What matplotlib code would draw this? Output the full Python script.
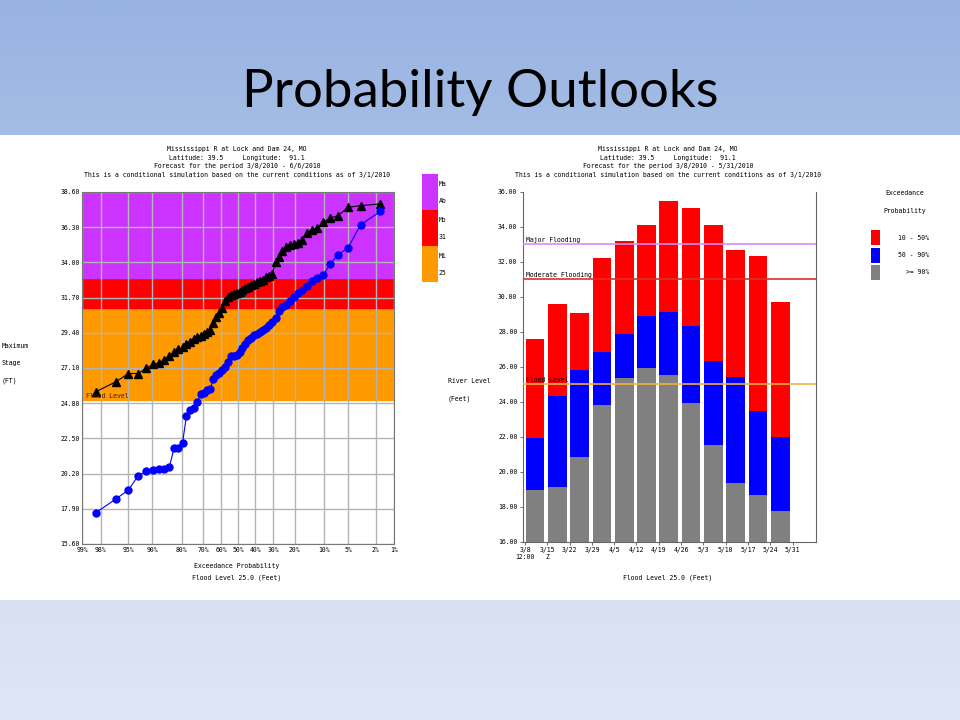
import numpy as np
import matplotlib
matplotlib.use("Agg")
import matplotlib.pyplot as plt
from matplotlib.patches import Rectangle
from statistics import NormalDist

# ---- left chart: exceedance probability of maximum stage ----
exceed_pct = [98.31, 96.61, 94.92, 93.22, 91.53, 89.83, 88.14, 86.44, 84.75, 83.05,
              81.36, 79.66, 77.97, 76.27, 74.58, 72.88, 71.19, 69.49, 67.80, 66.10,
              64.41, 62.71, 61.02, 59.32, 57.63, 55.93, 54.24, 52.54, 50.85, 49.15,
              47.46, 45.76, 44.07, 42.37, 40.68, 38.98, 37.29, 35.59, 33.90, 32.20,
              30.51, 28.81, 27.12, 25.42, 23.73, 22.03, 20.34, 18.64, 16.95, 15.25,
              13.56, 11.86, 10.17, 8.47, 6.78, 5.08, 3.39, 1.69]
stage_cond = [25.55, 26.20, 26.74, 26.74, 27.08, 27.33, 27.44, 27.60, 27.90, 28.12,
              28.31, 28.47, 28.65, 28.83, 29.01, 29.13, 29.22, 29.34, 29.43, 29.56,
              30.05, 30.45, 30.72, 31.00, 31.50, 31.74, 31.85, 31.93, 32.01, 32.08,
              32.19, 32.30, 32.42, 32.52, 32.61, 32.69, 32.78, 32.88, 33.02, 33.13,
              33.22, 34.05, 34.35, 34.75, 35.03, 35.13, 35.21, 35.28, 35.48, 35.95,
              36.12, 36.25, 36.63, 36.90, 37.05, 37.60, 37.71, 37.82]
stage_hist = [17.65, 18.54, 19.13, 20.06, 20.35, 20.44, 20.48, 20.52, 20.65, 21.87,
              21.87, 22.22, 23.99, 24.36, 24.51, 24.88, 25.40, 25.49, 25.67, 25.75,
              26.38, 26.65, 26.80, 26.95, 27.17, 27.50, 27.89, 27.91, 27.95, 28.13,
              28.40, 28.65, 28.92, 29.09, 29.24, 29.35, 29.47, 29.58, 29.73, 29.90,
              30.10, 30.37, 30.81, 31.06, 31.22, 31.45, 31.72, 31.97, 32.21, 32.48,
              32.77, 32.96, 33.18, 33.91, 34.51, 34.93, 36.45, 37.33]
prob_ticks = [99, 98, 95, 90, 80, 70, 60, 50, 40, 30, 20, 10, 5, 2, 1]
stage_ticks = [15.60, 17.90, 20.20, 22.50, 24.80, 27.10, 29.40, 31.70, 34.00, 36.30, 38.60]
flood_stage = 25.0
moderate_stage = 31.0
major_stage = 33.0

# ---- right chart: weekly river level ranges ----
week_labels = ["3/8\n12:00", "3/15\nZ", "3/22", "3/29", "4/5", "4/12", "4/19",
               "4/26", "5/3", "5/10", "5/17", "5/24", "5/31"]
level_10 = [27.6, 29.6, 29.05, 32.2, 33.2, 34.1, 35.45, 35.05, 34.1, 32.65, 32.35, 29.7]
level_50 = [21.95, 24.3, 25.8, 26.85, 27.85, 28.9, 29.15, 28.35, 26.3, 25.4, 23.45, 22.0]
level_90 = [18.95, 19.1, 20.85, 23.8, 25.35, 25.95, 25.55, 23.9, 21.55, 19.35, 18.65, 17.75]
level_ticks = [16, 18, 20, 22, 24, 26, 28, 30, 32, 34, 36]

SMALL = ["DejaVu Sans Mono"]
FS = 4.7

W, H = 960, 720
fig = plt.figure(figsize=(W / 100, H / 100), dpi=100)


def fx(px):
    return px / W


def fy(py):
    return 1 - py / H


# slide background
bg = fig.add_axes([0, 0, 1, 1])
bg.set_xlim(0, W)
bg.set_ylim(H, 0)
bg.axis("off")
grad = np.linspace(0, 1, 50).reshape(-1, 1)
bg.imshow(grad, extent=(0, W, 135, 0), aspect="auto",
          cmap=matplotlib.colors.LinearSegmentedColormap.from_list("t", ["#98b3e1", "#a4bde6"]))
bg.imshow(grad, extent=(0, W, 720, 600), aspect="auto",
          cmap=matplotlib.colors.LinearSegmentedColormap.from_list("b", ["#d8e0f2", "#dfe6f5"]))
bg.text(480, 92, "Probability Outlooks", ha="center", va="center",
        fontsize=38, family=["Lato", "DejaVu Sans"], color="black")

# ---------- left chart ----------
ax1 = fig.add_axes([fx(82.3), fy(544), fx(394) - fx(82.3), (544 - 192) / H])
nd = NormalDist()
xpos = [-nd.inv_cdf(p / 100) for p in exceed_pct]
zmax = nd.inv_cdf(0.99)
ax1.set_xlim(-zmax, zmax)
ax1.set_ylim(stage_ticks[0], stage_ticks[-1])
ax1.axhspan(flood_stage, moderate_stage, color="#ff9900", zorder=0)
ax1.axhspan(moderate_stage, major_stage, color="#ff0000", zorder=0)
ax1.axhspan(major_stage, stage_ticks[-1], color="#cc33ff", zorder=0)
ax1.set_xticks([-nd.inv_cdf(p / 100) for p in prob_ticks])
ax1.set_xticklabels([f"{p}%" for p in prob_ticks])
ax1.set_yticks(stage_ticks)
ax1.set_yticklabels([f"{v:.2f}" for v in stage_ticks])
ax1.grid(True, color="#b4b4b4", linewidth=1.0, zorder=1)
ax1.set_axisbelow(True)
ax1.tick_params(length=0, labelsize=FS, pad=2)
for lab in ax1.get_xticklabels() + ax1.get_yticklabels():
    lab.set_family(SMALL)
for s in ax1.spines.values():
    s.set_color("#777777")
ax1.plot(xpos, stage_cond, color="black", marker="^", markersize=5.5, linewidth=0.8, zorder=3)
ax1.plot(xpos, stage_hist, color="#0000ff", marker="o", markersize=5, linewidth=0.8, zorder=3)
ax1.text(-zmax + 0.05, flood_stage + 0.1, "Flood Level", fontsize=FS, family=SMALL,
         color="#402000", va="bottom")

for i, line in enumerate(["Mississippi R at Lock and Dam 24, MO",
                          "Latitude: 39.5     Longitude:  91.1",
                          "Forecast for the period 3/8/2010 - 6/6/2010",
                          "This is a conditional simulation based on the current conditions as of 3/1/2010"]):
    fig.text(fx(237), fy(149 + i * 8.7), line, ha="center", va="center", fontsize=FS, family=SMALL)
fig.text(fx(237), fy(566), "Exceedance Probability", ha="center", va="center", fontsize=FS, family=SMALL)
fig.text(fx(237), fy(578), "Flood Level 25.0 (Feet)", ha="center", va="center", fontsize=FS, family=SMALL)
for i, t in enumerate(["Maximum", "Stage", "(FT)"]):
    fig.text(fx(2), fy(346 + i * 17.5), t, ha="left", va="center", fontsize=FS, family=SMALL)

# category key of the left chart (cut off in the source)
for y0, col, labs in [(174, "#cc33ff", ("Ma", "Ab")), (210, "#ff0000", ("Mo", "31")),
                      (246, "#ff9900", ("Mi", "25"))]:
    fig.add_artist(Rectangle((fx(422), fy(y0 + 35.5)), 16 / W, 35.5 / H,
                             transform=fig.transFigure, color=col, lw=0))
    fig.text(fx(438.5), fy(y0 + 10), labs[0], fontsize=FS, family=SMALL, va="center")
    fig.text(fx(438.5), fy(y0 + 27), labs[1], fontsize=FS, family=SMALL, va="center")

# ---------- right chart ----------
ax2 = fig.add_axes([fx(523), fy(541.7), fx(816) - fx(523), 350 / H])
ax2.set_xlim(-0.09, 13.05)
ax2.set_ylim(level_ticks[0], level_ticks[-1])
xb = np.arange(len(level_10)) + 0.03
ax2.bar(xb, np.array(level_10) - np.array(level_50), width=0.84, bottom=level_50,
        align="edge", color="#ff0000", zorder=2)
ax2.bar(xb, np.array(level_50) - np.array(level_90), width=0.84, bottom=level_90,
        align="edge", color="#0000ff", zorder=2)
ax2.bar(xb, np.array(level_90) - level_ticks[0], width=0.84, bottom=level_ticks[0],
        align="edge", color="#808080", zorder=2)
for lev, col, name in [(major_stage, "#dd88ff", "Major Flooding"),
                       (moderate_stage, "#dd3030", "Moderate Flooding"),
                       (flood_stage, "#f0b040", "Flood Level")]:
    ax2.axhline(lev, color=col, linewidth=1.2, zorder=3)
    ax2.text(0.05, lev + 0.05, name, fontsize=FS, family=SMALL, va="bottom", zorder=4)
ax2.set_xticks(range(len(week_labels)))
ax2.set_xticklabels(week_labels)
ax2.set_yticks(level_ticks)
ax2.set_yticklabels([f"{v:.2f}" for v in level_ticks])
ax2.tick_params(length=2.5, width=0.6, color="#555555", labelsize=FS, pad=1.5)
for lab in ax2.get_xticklabels() + ax2.get_yticklabels():
    lab.set_family(SMALL)
ax2.spines["top"].set_visible(False)
for s in ["left", "bottom", "right"]:
    ax2.spines[s].set_color("#666666")

for i, line in enumerate(["Mississippi R at Lock and Dam 24, MO",
                          "Latitude: 39.5     Longitude:  91.1",
                          "Forecast for the period 3/8/2010 - 5/31/2010",
                          "This is a conditional simulation based on the current conditions as of 3/1/2010"]):
    fig.text(fx(668), fy(149 + i * 8.7), line, ha="center", va="center", fontsize=FS, family=SMALL)
fig.text(fx(668), fy(578), "Flood Level 25.0 (Feet)", ha="center", va="center", fontsize=FS, family=SMALL)
fig.text(fx(448), fy(381), "River Level", ha="left", va="center", fontsize=FS, family=SMALL)
fig.text(fx(448), fy(399), "(Feet)", ha="left", va="center", fontsize=FS, family=SMALL)

# legend of the right chart
fig.text(fx(905), fy(193), "Exceedance", ha="center", va="center", fontsize=FS, family=SMALL)
fig.text(fx(905), fy(211), "Probability", ha="center", va="center", fontsize=FS, family=SMALL)
for y0, col, lab in [(230, "#ff0000", "10 - 50%"), (247.7, "#0000ff", "50 - 90%"),
                     (265, "#808080", ">= 90%")]:
    fig.add_artist(Rectangle((fx(870.7), fy(y0 + 15)), 9.5 / W, 15 / H,
                             transform=fig.transFigure, color=col, lw=0))
    fig.text(fx(929), fy(y0 + 7.5), lab, ha="right", va="center", fontsize=FS, family=SMALL)

fig.savefig("out.png", dpi=100)
